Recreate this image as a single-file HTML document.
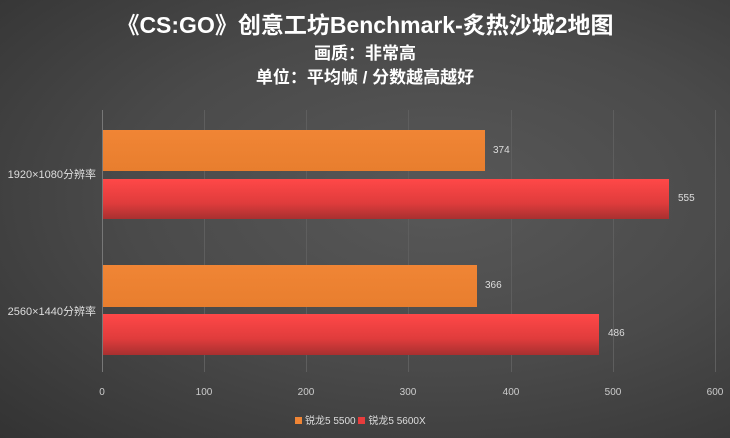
<!DOCTYPE html><html><head><meta charset="utf-8"><style>
body{margin:0;width:730px;height:438px;overflow:hidden;background:radial-gradient(ellipse at 60% 45%,#585858 0%,#4a4a4a 50%,#333 100%);font-family:"Liberation Sans","Noto Sans CJK SC",sans-serif;color:#ddd;position:relative}
.t{position:absolute;left:0;width:730px;text-align:center;color:#fff;font-weight:bold}
.g{position:absolute;top:110px;height:262px;width:1px;background:#5e5e5e}
.b{position:absolute;left:103px}
.o{background:linear-gradient(#f08535,#e87e2e)}
.r{background:linear-gradient(#ff4848,#e03c3c 60%,#a83030)}
.v{position:absolute;font-size:10px;color:#ddd}
.x{position:absolute;top:387px;font-size:10px;width:40px;text-align:center;color:#ccc}
.y{position:absolute;left:0;width:96px;text-align:right;font-size:11px;color:#ddd}
</style></head><body>
<div class="t" style="top:6px;font-size:23px">《CS:GO》创意工坊Benchmark-炙热沙城2地图</div>
<div class="t" style="top:39px;font-size:17px">画质：非常高</div>
<div class="t" style="top:63px;font-size:17px">单位：平均帧 / 分数越高越好</div>
<div class="g" style="left:102px;background:#777"></div>
<div class="g" style="left:204px"></div><div class="g" style="left:306px"></div><div class="g" style="left:408px"></div><div class="g" style="left:511px"></div><div class="g" style="left:613px"></div><div class="g" style="left:715px"></div>
<div class="b o" style="top:130px;height:41px;width:382px"></div>
<div class="b r" style="top:179px;height:40px;width:566px"></div>
<div class="b o" style="top:265px;height:42px;width:374px"></div>
<div class="b r" style="top:314px;height:41px;width:496px"></div>
<div class="v" style="left:493px;top:145px">374</div>
<div class="v" style="left:678px;top:193px">555</div>
<div class="v" style="left:485px;top:280px">366</div>
<div class="v" style="left:608px;top:328px">486</div>
<div class="y" style="top:166px">1920×1080分辨率</div>
<div class="y" style="top:303px">2560×1440分辨率</div>
<div class="x" style="left:82px">0</div><div class="x" style="left:184px">100</div><div class="x" style="left:286px">200</div><div class="x" style="left:388px">300</div><div class="x" style="left:491px">400</div><div class="x" style="left:593px">500</div><div class="x" style="left:695px">600</div>
<div style="position:absolute;top:412px;left:295px;font-size:10px;color:#ddd;white-space:nowrap"><span style="display:inline-block;width:7px;height:7px;background:#f08535;margin-right:3px"></span>锐龙5 5500 <span style="display:inline-block;width:7px;height:7px;background:#e83c3c;margin-right:3px"></span>锐龙5 5600X</div>
</body></html>
